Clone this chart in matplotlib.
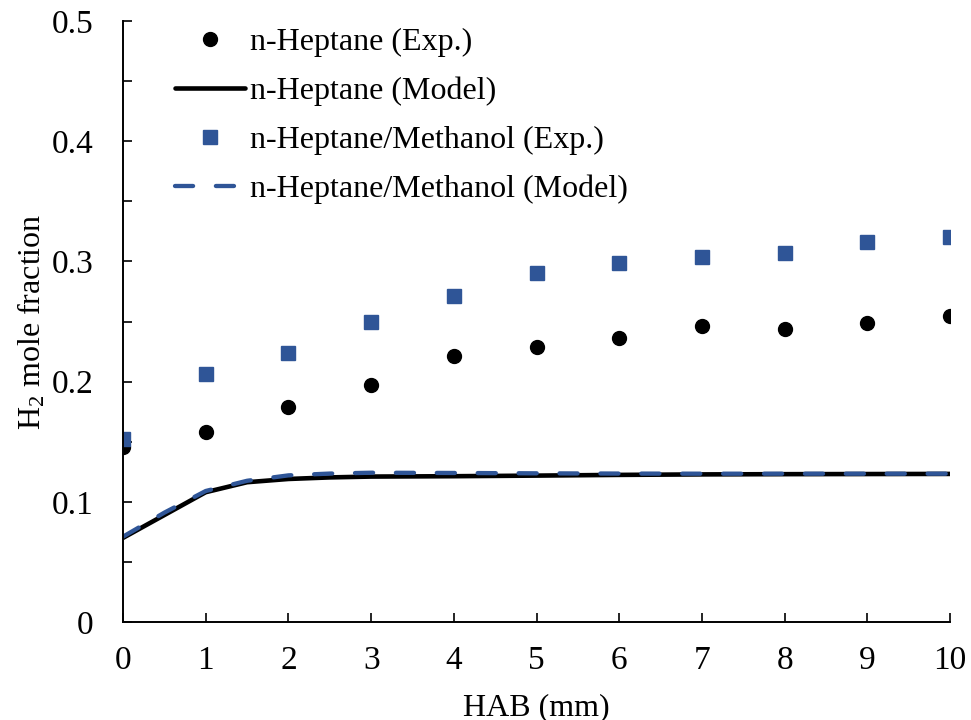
import matplotlib
matplotlib.use("Agg")
import matplotlib.pyplot as plt
from matplotlib.ticker import MultipleLocator

plt.rcParams["font.family"] = ["Liberation Serif", "DejaVu Serif"]
plt.rcParams["mathtext.fontset"] = "custom"
plt.rcParams["mathtext.rm"] = "Liberation Serif"
plt.rcParams["mathtext.it"] = "Liberation Serif:italic"

# HAB positions of the measurements (mm)
hab_exp = [0, 1, 2, 3, 4, 5, 6, 7, 8, 9, 10]
heptane_exp = [0.146, 0.158, 0.179, 0.197, 0.221, 0.229, 0.236, 0.246, 0.244, 0.249, 0.255]
blend_exp = [0.152, 0.206, 0.224, 0.250, 0.271, 0.290, 0.299, 0.304, 0.307, 0.316, 0.320]

# Model profiles
hab_model = [0, 0.5, 1, 1.5, 2, 2.5, 3, 4, 5, 6, 7, 8, 9, 10]
heptane_model = [0.070, 0.089, 0.108, 0.1163, 0.119, 0.1203, 0.121, 0.1213, 0.1218, 0.1224, 0.1228, 0.123, 0.1231, 0.1232]
blend_model = [0.071, 0.091, 0.109, 0.1175, 0.122, 0.1235, 0.1242, 0.1240, 0.1237, 0.1235, 0.1234, 0.1234, 0.1234, 0.1234]

blue = "#2F5597"

fig = plt.figure(figsize=(9.71, 7.2), dpi=100)
ax = fig.add_axes([0.1267, 0.1361, 0.8517, 0.8347])

ax.plot(hab_exp, heptane_exp, linestyle="none", marker="o", markersize=10,
        color="black", label="n-Heptane (Exp.)")
ax.plot(hab_model, heptane_model, color="black", linewidth=3.3,
        solid_capstyle="round", label="n-Heptane (Model)")
ax.plot(hab_exp, blend_exp, linestyle="none", marker="s", markersize=9.5,
        color=blue, label="n-Heptane/Methanol (Exp.)")
ax.plot(hab_model, blend_model, color=blue, linewidth=3.1,
        linestyle=(0, (4.2, 5.3)), dash_capstyle="round",
        label="n-Heptane/Methanol (Model)")

ax.set_xlim(0, 10)
ax.set_ylim(0, 0.5)
ax.xaxis.set_major_locator(MultipleLocator(1))
ax.yaxis.set_minor_locator(MultipleLocator(0.05))
ax.set_yticks([0, 0.1, 0.2, 0.3, 0.4, 0.5])
ax.set_yticklabels(["0", "0.1", "0.2", "0.3", "0.4", "0.5"])

for side in ("top", "right"):
    ax.spines[side].set_visible(False)
for side in ("left", "bottom"):
    ax.spines[side].set_linewidth(1.4)

ax.tick_params(axis="both", which="both", direction="in", length=6.5, width=1.2,
               labelsize=24)
ax.tick_params(axis="x", pad=17)
ax.tick_params(axis="y", pad=21)

ax.set_xlabel("HAB (mm)", fontsize=23, labelpad=12)
ax.set_ylabel(r"H$_2$ mole fraction", fontsize=23, labelpad=3)

leg = ax.legend(loc="upper left", bbox_to_anchor=(0.180, 0.961),
                bbox_transform=fig.transFigure, frameon=False, fontsize=23,
                handlelength=2.2, handletextpad=0.15, labelspacing=0.61,
                borderpad=0, borderaxespad=0)

fig.savefig("out.png", dpi=100)
